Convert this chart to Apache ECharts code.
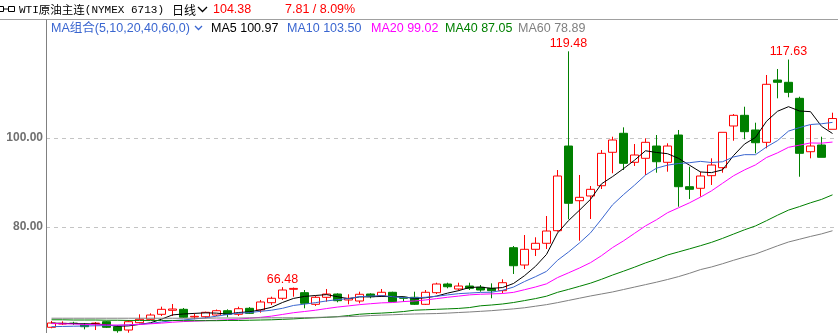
<!DOCTYPE html>
<html><head><meta charset="utf-8">
<script src="https://cdn.jsdelivr.net/npm/echarts@6/dist/echarts.min.js"></script>
<style>html,body{margin:0;padding:0;background:#fff}#c{width:838px;height:333px}</style>
</head><body><div id="c"></div>
<script>
// ---- data ----
const opens = [57.46,58.2,58.4,58.13,58.3,58.72,57.6,56.85,58.5,59.26,
60.38,61.28,61.5,59.78,59.84,60.22,61.19,60.38,61.73,61.35,
62.99,63.98,66.0,65.24,62.63,64.2,64.94,63.6,63.37,64.94,
64.56,65.33,64.2,64.2,62.63,65.24,67.19,66.07,66.74,66.45,
66.22,65.69,75.35,71.46,74.99,76.34,79.17,98.2,85.91,86.97,
89.28,96.79,101.06,94.54,95.44,98.2,94.54,100.67,89.06,88.7,
91.53,93.33,102.7,105.1,101.8,99.03,113.03,112.52,108.92,96.92,
98.43,101.96];
const closes = [58.43,58.35,58.3,57.6,58.4,57.46,56.7,58.72,59.26,60.22,
61.5,61.57,59.71,59.93,60.83,61.19,60.38,61.64,60.6,63.15,
63.98,65.84,66.2,62.85,64.2,64.94,63.44,63.98,64.88,64.34,
65.33,63.21,63.98,62.63,65.33,67.19,66.58,66.74,66.22,65.84,
65.69,67.48,71.3,74.99,76.34,79.1,91.46,85.33,86.67,88.47,
96.56,99.55,94.31,96.18,99.03,94.67,98.2,89.06,88.47,91.46,
93.93,101.28,105.1,101.42,98.94,112.07,112.52,110.27,96.56,98.2,
95.66,104.38];
const lows = [57.24,58.0,58.0,57.0,56.85,57.3,56.25,56.25,58.36,59.1,
60.0,60.0,59.55,59.26,59.48,60.0,59.71,60.0,60.45,60.74,
62.47,63.6,64.34,61.73,62.25,63.21,63.08,62.63,62.85,63.98,
64.34,63.15,63.21,62.47,62.47,64.94,66.22,65.69,65.84,65.46,
63.98,65.1,69.44,70.56,73.48,75.06,78.94,81.73,76.92,81.8,
88.54,92.07,92.81,93.71,91.69,92.2,92.43,84.56,86.29,86.81,
89.44,92.2,99.39,99.71,96.56,97.69,108.92,109.15,91.3,95.44,
95.66,101.96];
const highs = [58.88,58.8,58.7,58.43,58.65,58.9,57.98,59.1,60.38,60.6,
62.1,62.7,61.8,60.6,60.97,61.46,61.5,62.09,62.0,63.6,
64.34,66.48,66.4,65.84,64.56,66.07,65.1,64.88,65.46,65.1,
66.07,65.46,64.34,65.46,65.84,67.48,67.48,67.48,67.48,66.97,
67.34,68.25,75.73,78.2,77.69,82.47,92.81,119.48,91.69,89.21,
97.3,100.29,102.4,98.65,99.93,100.67,98.81,101.8,93.55,92.43,
95.44,101.28,105.39,107.03,103.44,114.16,115.51,117.63,109.28,102.92,
100.29,105.69];
// moving-average values before a full window is available
const ma5Early = [58.4,58.35,58.3,58.25];
const ma10Early = [57.6,57.65,57.7,57.75,57.8,57.85,57.9,58.0,58.15];
const ma20Early = [58.3,58.25,58.2,58.1,58.05,58.0,57.95,58.0,58.1,58.25,58.4,58.6,58.75,58.85,58.95,59.05,59.15,59.3,59.5];
const ma40Early = [59.15,59.15,59.1,59.1,59.1,59.05,59.05,59.0,59.0,59.0,
59.0,59.0,58.95,58.95,58.95,58.95,59.0,59.0,59.05,59.1,
59.15,59.25,59.35,59.5,59.6,59.7,59.85,60.1,60.4,60.55,
60.65,60.8,61.0,61.3,61.4,61.5,61.6,61.7,61.9];
const ma60Early = [59.5,59.5,59.5,59.5,59.5,59.5,59.5,59.5,59.5,59.5,
59.5,59.5,59.5,59.5,59.5,59.55,59.55,59.55,59.58,59.58,
59.6,59.6,59.6,59.62,59.68,59.75,59.82,59.88,59.95,60.1,
60.2,60.28,60.38,60.45,60.5,60.55,60.65,60.78,60.9,61.05,
61.2,61.4,61.6,61.85,62.2,62.55,63.0,63.5,64.0,64.5,
64.95,65.4,65.95,66.5,67.05,67.6,68.2,68.85,69.6];
const markIdx = [21, 47, 67];
const yLabels = [80, 100];
const days = closes.map((_, i) => 'D' + (i + 1));

function ma(n, early) {
  return closes.map((c, i) => {
    if (i < n - 1) return early[i];
    let s = 0; for (let k = i - n + 1; k <= i; k++) s += closes[k];
    return +(s / n).toFixed(2);
  });
}
const kData = closes.map((c, i) => [opens[i], c, lows[i], highs[i]]);

const chart = echarts.init(document.getElementById('c'), null, {renderer: 'canvas'});
const lineS = (name, data, color) => ({
  name, type: 'line', data, symbol: 'none', z: 4, silent: true,
  lineStyle: {color, width: 1}, itemStyle: {color}
});
const txt = (x, y, text, fill, font) => ({type: 'text', x, y, silent: true,
  style: {text, fill, font, verticalAlign: 'middle', align: 'left'}});
const F = "12.5px 'Liberation Sans','Noto Sans CJK SC',sans-serif";

chart.setOption({
  animation: false,
  backgroundColor: '#fff',
  grid: {left: 46, right: 0, top: 20, bottom: 0, containLabel: false},
  xAxis: {type: 'category', data: days, boundaryGap: true,
    axisLine: {show: false}, axisTick: {show: false}, axisLabel: {show: false}, splitLine: {show: false}},
  yAxis: {type: 'value', min: 56.18, max: 126.52, scale: true,
    axisLine: {show: true, lineStyle: {color: '#808080', width: 1}},
    axisTick: {show: false, customValues: yLabels},
    axisLabel: {customValues: yLabels, formatter: v => v.toFixed(2), color: '#707070',
      fontWeight: 'bold', fontSize: 12, fontFamily: 'Liberation Sans', margin: 3},
    splitLine: {show: true, lineStyle: {color: '#c4c4c4', type: [4, 4], width: 1}}},
  series: [
    {type: 'candlestick', data: kData, barWidth: 8, z: 2,
      itemStyle: {color: '#ffffff', color0: '#008000', borderColor: '#ff0000', borderColor0: '#008000', borderWidth: 1},
      markPoint: {symbol: 'circle', symbolSize: 1, itemStyle: {color: 'rgba(0,0,0,0)'},
        label: {show: true, position: 'top', distance: 1, color: '#ff0000', fontSize: 12.5,
          fontFamily: 'Liberation Sans', formatter: p => p.value.toFixed(2)},
        data: markIdx.map(i => ({coord: [i, highs[i]], value: highs[i]}))}},
    lineS('MA5', ma(5, ma5Early), '#000000'),
    lineS('MA10', ma(10, ma10Early), '#3a66d0'),
    lineS('MA20', ma(20, ma20Early), '#ff00ff'),
    lineS('MA40', ma(40, ma40Early), '#008000'),
    lineS('MA60', ma(60, ma60Early), '#808080')
  ],
  graphic: [
    {type: 'line', silent: true, shape: {x1: 0, y1: 19.5, x2: 838, y2: 19.5}, style: {stroke: '#a0a0a0', lineWidth: 1}},
    {type: 'rect', silent: true, shape: {x: -2.5, y: 6.5, width: 6, height: 5}, style: {fill: 'none', stroke: '#000', lineWidth: 1}},
    {type: 'rect', silent: true, shape: {x: 8.5, y: 6.5, width: 6, height: 5}, style: {fill: 'none', stroke: '#000', lineWidth: 1}},
    {type: 'line', silent: true, shape: {x1: 3, y1: 9, x2: 9, y2: 9}, style: {stroke: '#000', lineWidth: 1}},
    {type: 'text', x: 19, y: 10, silent: true, style: {
      text: '{a|WTI}{b|原油主连}{a|(NYMEX 6713)}', verticalAlign: 'middle',
      rich: {a: {fontFamily: 'Liberation Mono', fontSize: 11, fill: '#000'},
             b: {fontFamily: 'Noto Sans CJK SC', fontSize: 11.5, fill: '#000'}}}},
    txt(172, 10, '日线', '#000', "12px 'Noto Sans CJK SC'"),
    {type: 'polyline', silent: true, shape: {points: [[198, 7], [202.5, 11.5], [207, 7]]}, style: {stroke: '#000', lineWidth: 1.3, fill: 'none'}},
    txt(213, 10, '104.38', '#ff0000', F),
    txt(285, 10, '7.81 / 8.09%', '#ff0000', F),
    txt(51, 28.5, 'MA组合(5,10,20,40,60,0)', '#3a66d0', F),
    {type: 'polyline', silent: true, shape: {points: [[195, 26], [198.5, 29.5], [202, 26]]}, style: {stroke: '#3a66d0', lineWidth: 1.3, fill: 'none'}},
    txt(211, 28.5, 'MA5 100.97', '#000000', F),
    txt(287, 28.5, 'MA10 103.50', '#3a66d0', F),
    txt(371, 28.5, 'MA20 99.02', '#ff00ff', F),
    txt(445, 28.5, 'MA40 87.05', '#008000', F),
    txt(518, 28.5, 'MA60 78.89', '#808080', F)
  ]
});
</script></body></html>
